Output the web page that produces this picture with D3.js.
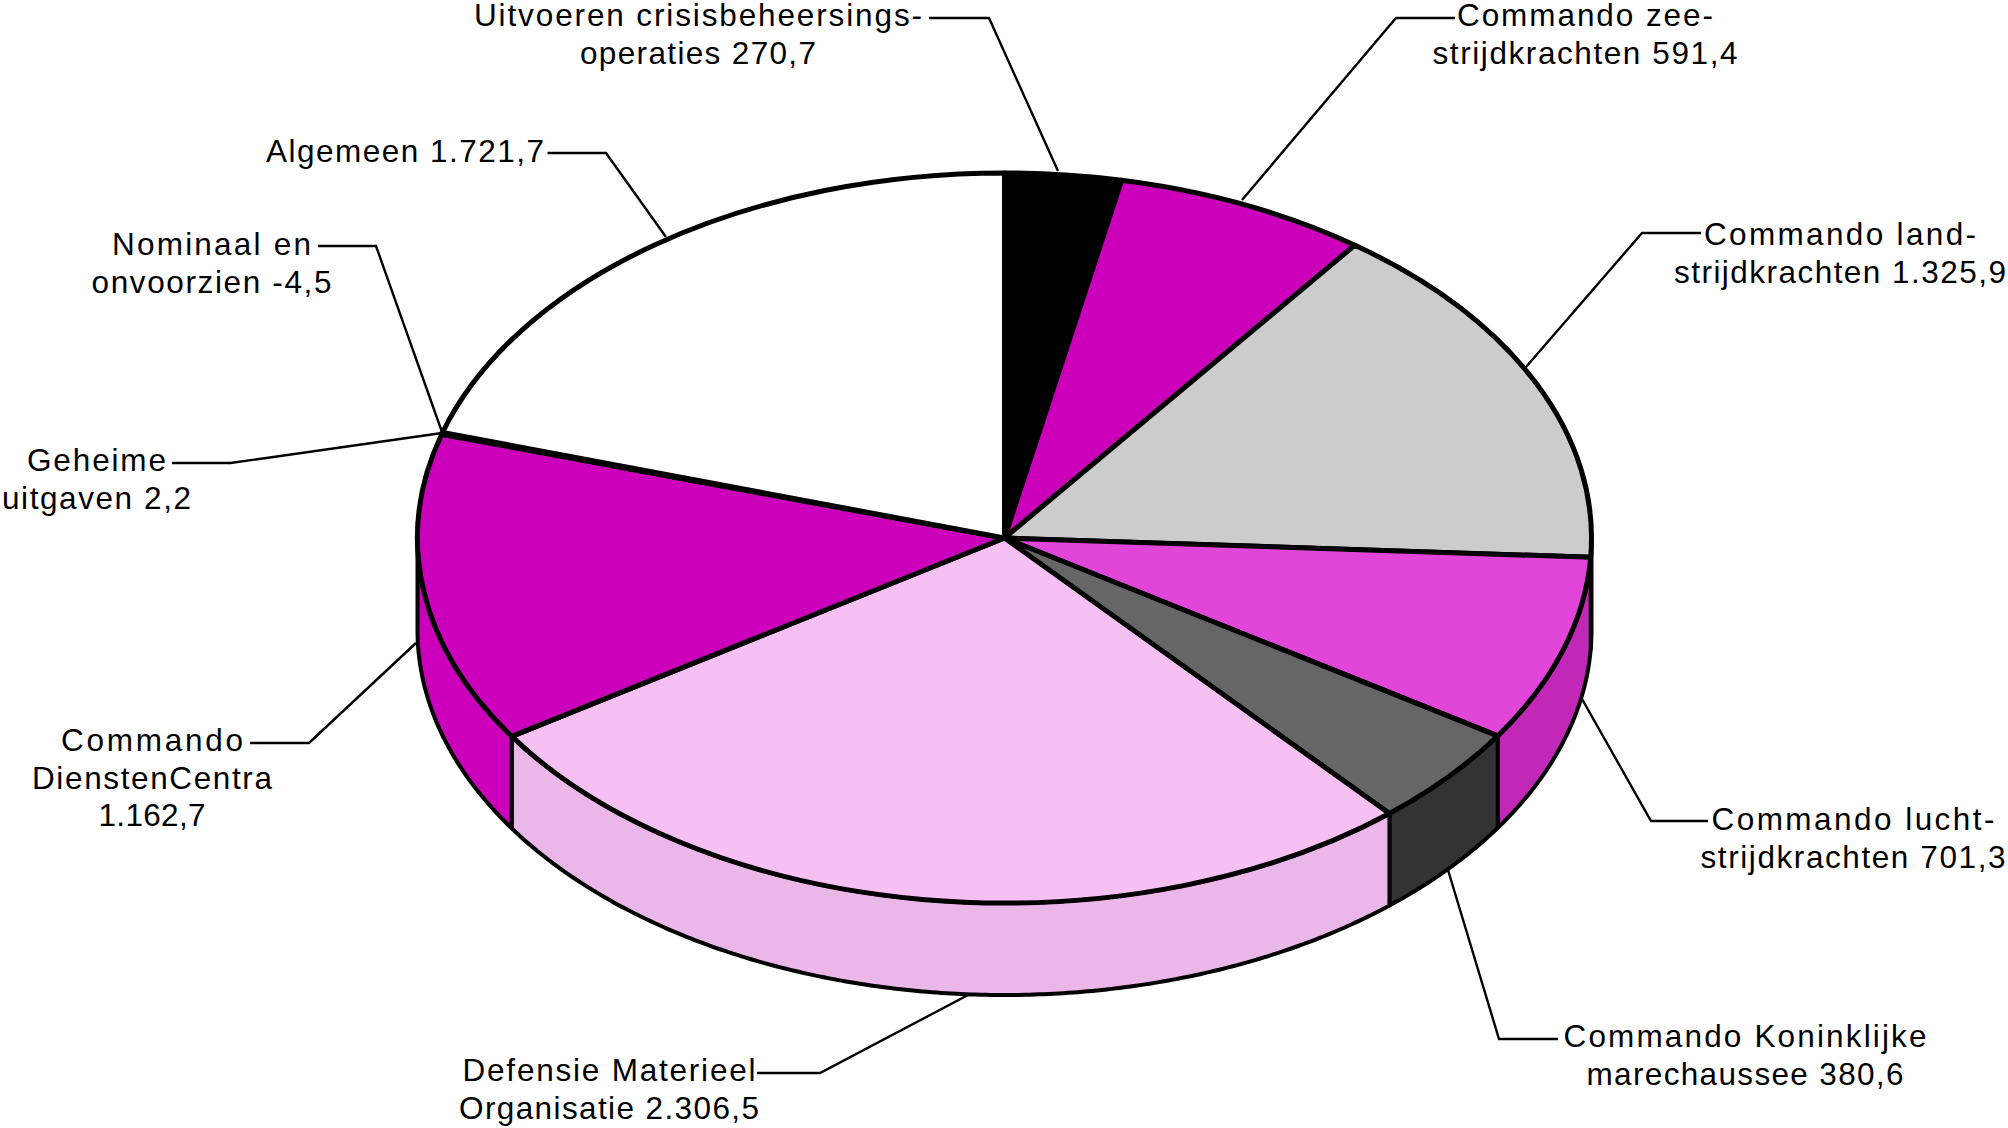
<!DOCTYPE html>
<html><head><meta charset="utf-8">
<script src="https://cdn.jsdelivr.net/npm/d3@7"></script>
<style>html,body{margin:0;background:#fff}svg{display:block}
text{font-family:"Liberation Sans",Arial,sans-serif;font-size:31.5px;fill:#000;text-anchor:middle}</style>
</head><body><svg id="c" width="2008" height="1128"></svg>
<script>
// Data, clockwise from 12 o'clock
const categories = ["Uitvoeren crisisbeheersingsoperaties","Commando zeestrijdkrachten","Commando landstrijdkrachten","Commando luchtstrijdkrachten","Commando Koninklijke marechaussee","Defensie Materieel Organisatie","Commando DienstenCentra","Geheime uitgaven","Nominaal en onvoorzien","Algemeen"];
const values = [270.7,591.4,1325.9,701.3,380.6,2306.5,1162.7,2.2,-4.5,1721.7];
const topColors = ["#000000","#cc00bb","#cccccc","#e246d9","#666666","#f6c0f2","#cc00bb","#ffffff","#ffffff","#ffffff"];
const sideColors = ["#000000","#cc00bb","#bbbbbb","#c228b8","#333333","#ebb6e8","#cc00bb","#ffffff","#ffffff","#ffffff"];
const labelLines = [["Uitvoeren crisisbeheersings-","operaties 270,7"],["Commando zee-","strijdkrachten 591,4"],["Commando land-","strijdkrachten 1.325,9"],["Commando lucht-","strijdkrachten 701,3"],["Commando Koninklijke","marechaussee 380,6"],["Defensie Materieel","Organisatie 2.306,5"],["Commando","DienstenCentra","1.162,7"],["Geheime","uitgaven 2,2"],["Nominaal en","onvoorzien -4,5"],["Algemeen 1.721,7"]];

// Layout (separate from the data)
const cx=1004.5, cy=538, rx=587, ry=365, depth=92;
const labelAnchor = [[698,26],[1585,26],[1840,245],[1853,830],[1745,1047],[609,1081],[152,751],[96.5,471],[211.5,255],[405,162]];
const labelWidths = [[448,236],[256,305],[272,332],[283,305],[363,317],[293,300],[182,240,107],[139,189],[199,240],[278]];
const lineStep = 37.6;
const leaders = [
 [[929,18],[989,18],[1058,171]],
 [[1455,18],[1396,18],[1242,200]],
 [[1701,233],[1642,233],[1526,367]],
 [[1708,821],[1651,821],[1582,699]],
 [[1558,1039],[1499,1039],[1448,870]],
 [[757,1073],[820,1073],[970,994]],
 [[250,743],[309,743],[416,643]],
 [[172,463],[230.5,463],[442,433]],
 [[318,246],[376,246],[442,432]],
 [[547.5,153],[606,153],[666,237]]
];

const svg = d3.select("#c");
const slices = d3.pie().sort(null).startAngle(0).endAngle(2*Math.PI)
  .value(d=>Math.abs(d))(values);

// Projected rim point for a clockwise-from-top angle
const xS = a => cx + rx*Math.sin(a);
const yS = (a,dy=0) => cy - ry*Math.cos(a) + dy;
const line = d3.line();

// Side walls: only the front half of the disc shows
const front = [Math.PI/2, 3*Math.PI/2];
const gWall = svg.append("g");
slices.forEach((s,i)=>{
  const a0=Math.max(s.startAngle,front[0]), a1=Math.min(s.endAngle,front[1]);
  if(a1<=a0) return;
  const n=Math.max(2,Math.ceil((a1-a0)*120));
  const as=d3.range(n+1).map(k=>a0+(a1-a0)*k/n);
  const pts=as.map(a=>[xS(a),yS(a)]).concat(as.slice().reverse().map(a=>[xS(a),yS(a,depth)]));
  gWall.append("path").attr("d",line(pts)+"Z")
    .attr("fill",sideColors[i]).attr("stroke","#000").attr("stroke-width",4).attr("stroke-linejoin","round");
});

// Top face
const arc = d3.arc().innerRadius(0).outerRadius(rx);
svg.append("g").attr("transform",`translate(${cx},${cy}) scale(1,${ry/rx})`)
  .selectAll("path").data(slices).join("path")
  .attr("d",arc).attr("fill",(d,i)=>topColors[i])
  .attr("stroke","#000").attr("stroke-width",5).attr("stroke-linejoin","round")
  .attr("vector-effect","non-scaling-stroke");

// Leaders
svg.append("g").selectAll("path").data(leaders).join("path")
  .attr("d",d=>line(d)).attr("fill","none").attr("stroke","#000").attr("stroke-width",2.4);

// Labels
labelLines.forEach((lines,i)=>{
  lines.forEach((t,j)=>{
    svg.append("text").attr("x",labelAnchor[i][0]).attr("y",labelAnchor[i][1]+j*lineStep)
      .attr("textLength",labelWidths[i][j]).attr("lengthAdjust","spacing").text(t);
  });
});
</script></body></html>
